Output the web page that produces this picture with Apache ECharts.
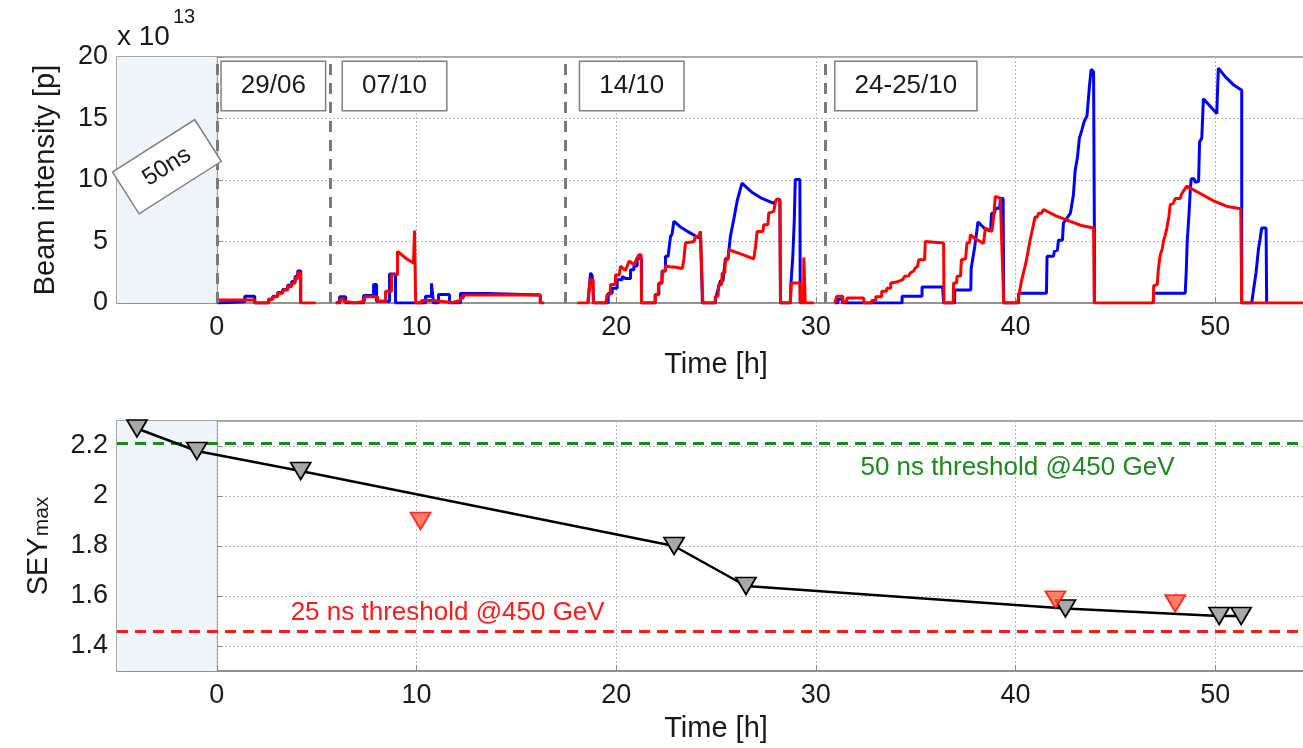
<!DOCTYPE html>
<html><head><meta charset="utf-8">
<script src="https://cdn.jsdelivr.net/npm/echarts@6/dist/echarts.min.js"></script>
<style>html,body{margin:0;padding:0;background:#fff}#c{width:1303px;height:748px}</style>
</head><body><div id="c"></div>
<script>
// ---------- data ----------
const timeTicks = [0, 10, 20, 30, 40, 50];
const intensityTicks = [0, 5, 10, 15, 20];
const seyTicks = [1.4, 1.6, 1.8, 2.0, 2.2];
const fillSeparators = [0, 5.67, 17.43, 30.45];
const fillLabels = ['29/06', '07/10', '14/10', '24-25/10'];
const fillLabelTimes = [2.83, 8.9, 20.78, 34.51];
const fillLabelLevel = 17.64;
const spacingLabel = '50ns';
const spacingLabelAt = [-2.5, 11.08];

// Beam 1 (blue), intensity in units of 1e13 p, time in h
const beam1 = [
 [0.03,0],[0.03,0.1],[1.4,0.1],[1.4,0.55],[1.9,0.55],[1.9,0],[2.6,0],[2.6,0.3],[2.8,0.3],[2.8,0.55],[3.05,0.55],[3.05,0.85],[3.3,0.85],[3.3,1.1],[3.55,1.1],[3.55,1.45],[3.75,1.45],[3.75,1.75],[3.92,1.75],[3.92,2.15],[4.05,2.15],[4.05,2.6],[4.2,2.6],[4.2,0],
 [4.6,'-'],
 [5.96,0],[6.15,0],[6.15,0.5],[6.45,0.5],[6.45,0],[7.35,0],[7.35,0.6],[7.85,0.6],[7.85,1.5],[8.0,1.5],[8.0,0.15],[8.65,0.15],[8.65,2.35],[8.95,2.35],[8.95,0],[10.45,0],[10.45,0.55],[10.75,0.55],[10.75,1.6],[10.85,1.6],[10.85,0],[11.1,0],[11.1,0.7],[11.65,0.7],[11.65,0],[12.2,0],[12.2,0.77],[13.55,0.77],[13.55,0.65],[16.2,0.65],[16.2,0],
 [17,'-'],
 [18.6,0],[18.6,0.3],[18.7,0.3],[18.72,2.45],[18.8,2.2],[18.88,2.2],[18.88,0],[19.6,0],[19.6,0.8],[19.8,0.8],[19.8,1.2],[20.05,1.2],[20.05,1.9],[20.3,1.9],[20.3,2.15],[20.47,2.0],[20.72,2.0],[20.72,2.7],[20.89,2.7],[20.89,3.0],[21.05,3.0],[21.05,3.65],[21.14,3.5],[21.27,3.6],[21.27,0],
 [21.95,0],[21.95,0.7],[22.14,0.7],[22.14,1.6],[22.3,1.6],[22.3,2.6],[22.47,2.6],[22.47,3.8],[22.6,3.8],[22.72,5.4],[22.8,5.6],[22.89,6.65],[23.2,6.2],[23.6,5.8],[23.97,5.45],[24.14,5.3],[24.22,5.8],[24.32,5.8],[24.32,0],
 [24.97,0],[24.97,0.3],[25.05,0.8],[25.14,0.8],[25.22,1.8],[25.35,1.8],[25.47,3.6],[25.6,3.6],[25.72,5.4],[25.8,5.5],[25.89,6.8],[25.98,6.9],[26.06,8.3],[26.15,8.4],[26.3,9.75],[26.8,9.0],[27.3,8.5],[27.9,8.1],[28.06,8.45],[28.2,8.4],[28.23,0],
 [28.72,0],[28.75,1.5],[28.82,1.5],[28.85,3.9],[28.92,6.7],[28.97,10.05],[29.2,10.05],[29.22,0],
 [30,'-'],
 [30.95,0],[31.1,0],[31.1,0.3],[31.35,0.3],[31.35,0],[34.32,0],[34.32,0.54],[35.32,0.54],[35.32,1.3],[36.35,1.3],[36.4,0],
 [36.95,0],[36.95,1.05],[37.76,1.05],[37.78,2.8],[37.85,2.8],[37.88,3.8],[37.93,3.8],[37.96,4.6],[38.02,4.6],[38.05,5.7],[38.08,5.7],[38.12,6.6],[38.3,6.3],[38.49,6.0],[38.75,5.85],[38.8,7.3],[38.95,7.3],[39.0,7.7],[39.2,7.7],[39.25,8.5],[39.38,8.5],[39.41,0],
 [40.15,0],[40.15,0.8],[41.55,0.8],[41.58,3.8],[41.9,3.8],[41.95,4.2],[42.1,4.3],[42.15,5.1],[42.35,5.1],[42.4,6.5],[42.75,7.3],[42.85,7.45],[42.9,8.8],[42.99,10.8],[43.1,11.8],[43.2,13.4],[43.33,14.1],[43.45,14.8],[43.58,15.2],[43.71,17.75],[43.79,19.0],[43.91,18.8],[43.95,6.1],[43.95,0],
 [45,'-'],
 [46.9,0],[46.92,0.8],[48.5,0.8],[48.55,2.5],[48.6,5.0],[48.7,7.5],[48.75,9.1],[48.8,10.1],[48.95,10.1],[49.0,9.8],[49.17,9.9],[49.22,13.1],[49.33,13.4],[49.41,16.6],[50.08,15.4],[50.16,19.1],[50.5,18.4],[50.91,17.75],[51.33,17.3],[51.33,0],
 [51.83,0],[51.95,1.4],[52.05,2.5],[52.17,4.4],[52.25,5.2],[52.33,6.1],[52.55,6.1],[52.58,0]
];

// Beam 2 (red)
const beam2 = [
 [0.03,0],[0.03,0.25],[1.9,0.25],[1.9,0],[2.6,0],[2.6,0.3],[2.8,0.3],[2.8,0.5],[3.05,0.5],[3.05,0.8],[3.3,0.8],[3.3,1.05],[3.55,1.05],[3.55,1.35],[3.75,1.35],[3.75,1.6],[3.92,1.6],[3.92,2.0],[4.05,2.0],[4.05,2.45],[4.2,2.45],[4.2,0],[4.95,0],
 [5.5,'-'],
 [5.96,0],[5.96,0.15],[6.2,0.15],[6.2,0.35],[6.37,0.35],[6.37,0.1],[6.54,0.1],[6.54,0],[6.9,0],[6.9,0.15],[7.4,0.15],[7.4,0.5],[8.05,0.5],[8.05,0.15],[8.45,0.15],[8.45,0.95],[8.75,0.95],[8.75,2.3],[9.05,2.3],[9.05,4.2],[9.15,4.1],[9.5,3.6],[9.85,3.25],[9.9,5.9],[9.96,5.9],[9.96,0],[10.25,0],[10.25,0.2],[10.8,0.2],[10.8,0.05],[11.8,0.05],[11.8,0.2],[12.2,0.2],[12.2,0.4],[12.35,0.4],[12.35,0.65],[16.2,0.65],[16.2,0],[16.4,0],
 [17,'-'],
 [18.05,0],[18.6,0],[18.6,0.3],[18.7,0.3],[18.7,1.9],[18.85,1.9],[18.85,0],[19.5,0],[19.5,0.2],[19.55,0.2],[19.55,0.7],[19.7,0.7],[19.72,1.5],[19.95,1.5],[19.97,2.3],[20.15,2.25],[20.22,3.0],[20.35,2.8],[20.47,2.65],[20.64,3.4],[20.75,3.3],[20.89,3.1],[21.0,3.5],[21.14,3.93],[21.25,3.9],[21.27,0],
 [21.95,0],[21.97,0.67],[22.1,0.67],[22.14,1.63],[22.28,1.63],[22.31,2.58],[22.45,2.58],[22.47,3.03],[22.7,2.95],[23.0,2.9],[23.31,2.8],[23.39,3.52],[23.45,3.52],[23.47,4.88],[23.9,5.0],[23.97,5.42],[24.15,5.42],[24.22,5.82],[24.3,5.82],[24.34,0],
 [24.95,0],[24.97,0.54],[25.1,0.54],[25.14,1.49],[25.28,1.49],[25.31,2.44],[25.44,2.44],[25.47,3.52],[25.6,3.52],[25.64,4.33],[26.3,3.95],[26.89,3.58],[26.98,4.6],[27.03,4.6],[27.06,5.82],[27.35,5.82],[27.39,6.37],[27.6,6.37],[27.64,7.3],[27.89,7.45],[27.98,8.26],[28.06,8.45],[28.2,8.3],[28.23,0],
 [28.72,0],[28.78,1.63],[29.2,1.63],[29.22,0],[29.38,0],[29.4,3.7],[29.45,3.7],[29.47,0],[29.9,0],
 [30.4,'-'],
 [30.95,0],[31.05,0],[31.05,0.55],[31.35,0.55],[31.35,0.1],[31.55,0.1],[31.55,0.4],[32.4,0.4],[32.4,0],[32.8,0],[32.8,0.2],[33.0,0.2],[33.0,0.5],[33.3,0.5],[33.3,0.95],[33.55,0.95],[33.55,1.2],[33.75,1.2],[33.75,1.62],[34.05,1.7],[34.1,1.76],[34.35,1.9],[34.45,2.17],[34.65,2.2],[34.73,2.44],[34.9,2.6],[34.98,2.84],[35.1,3.0],[35.15,3.52],[35.45,3.52],[35.48,5.0],[36.4,4.88],[36.42,0],
 [36.88,0],[36.9,1.62],[37.05,1.62],[37.07,2.17],[37.25,2.2],[37.29,3.52],[37.5,3.6],[37.57,4.88],[37.7,4.9],[37.74,5.55],[38.0,5.2],[38.4,4.85],[38.49,6.1],[38.6,6.0],[38.82,5.83],[38.91,7.04],[38.96,7.04],[38.99,8.67],[39.24,8.53],[39.32,8.53],[39.41,0],
 [40.1,0],[40.15,0.4],[40.25,0.4],[40.3,1.8],[40.4,1.8],[40.48,3.0],[40.55,3.5],[40.65,4.4],[40.73,5.1],[40.85,6.0],[40.98,7.0],[41.1,7.0],[41.15,7.3],[41.3,7.3],[41.4,7.6],[42.0,7.1],[42.74,6.63],[43.3,6.3],[43.91,6.1],[43.95,0],[46.9,0],
 [46.92,1.4],[47.1,1.5],[47.15,2.7],[47.25,3.9],[47.35,4.4],[47.42,5.1],[47.5,5.5],[47.58,6.1],[47.68,7.0],[47.75,8.0],[47.9,8.1],[48.0,8.5],[48.25,8.5],[48.3,8.8],[48.41,9.1],[48.5,9.1],[48.58,9.5],[49.25,8.9],[49.92,8.3],[50.6,7.85],[51.28,7.67],[51.33,0],[55,0]
];

// SEY_max estimate (black line with grey markers) and measured points (red)
const seyFit = [[-4.0,2.27],[-1.0,2.18],[4.2,2.10],[22.9,1.80],[26.5,1.64],[42.5,1.55],[50.2,1.52],[51.3,1.52]];
const seyMeasured = [[10.2,1.90],[42.0,1.585],[48.0,1.57]];
const threshold50 = 2.215;
const threshold25 = 1.457;
const threshold50Label = '50 ns threshold @450 GeV';
const threshold25Label = '25 ns threshold @450 GeV';
const threshold50LabelAt = [40.1, 2.111];
const threshold25LabelAt = [11.56, 1.534];

// ---------- chart ----------
const FONT = 'Liberation Sans';
const TXT = '#1a1a1a';
const AX = '#8a8a8a';
const splitLine = {show: true, lineStyle: {color: '#b9b9b9', type: [2, 2], width: 1}};
const PLOT_W = 1198;

function xAxisCfg(gi, gap) {
  return {
    gridIndex: gi, type: 'value', min: -5, max: 55,
    name: 'Time [h]', nameLocation: 'middle', nameGap: gap,
    nameTextStyle: {fontSize: 29, color: TXT, fontFamily: FONT},
    axisLine: {show: true, onZero: false, lineStyle: {color: AX, width: 1.5}},
    axisTick: {show: true, inside: true, length: 6, customValues: timeTicks, lineStyle: {color: AX}},
    axisLabel: {customValues: timeTicks, fontSize: 27, color: TXT, margin: 11, fontFamily: FONT},
    splitLine: splitLine
  };
}

const chart = echarts.init(document.getElementById('c'), null, {renderer: 'canvas'});
const option = {
  animation: false,
  backgroundColor: '#fff',
  textStyle: {fontFamily: FONT},
  grid: [
    {left: 117, top: 57, width: PLOT_W, height: 246, outerBoundsMode: 'none', containLabel: false, show: true, borderColor: AX, borderWidth: 1.5, backgroundColor: '#fff'},
    {left: 117, top: 421, width: PLOT_W, height: 250, outerBoundsMode: 'none', containLabel: false, show: true, borderColor: AX, borderWidth: 1.5, backgroundColor: '#fff'}
  ],
  xAxis: [xAxisCfg(0, 47), xAxisCfg(1, 43)],
  yAxis: [
    {
      gridIndex: 0, type: 'value', min: 0, max: 20, interval: 5,
      name: 'Beam intensity [p]', nameLocation: 'middle', nameGap: 57, nameRotate: 90,
      nameTextStyle: {fontSize: 29, color: TXT, fontFamily: FONT},
      axisLine: {show: true, lineStyle: {color: AX, width: 1.5}},
      axisTick: {show: true, inside: true, length: 6, lineStyle: {color: AX}},
      axisLabel: {fontSize: 27, color: TXT, margin: 9, fontFamily: FONT},
      splitLine: splitLine
    },
    {
      gridIndex: 1, type: 'value', min: 1.3, max: 2.3,
      name: '{a|SEY}{b|max}', nameLocation: 'middle', nameGap: 64, nameRotate: 90,
      nameTextStyle: {
        color: TXT, fontFamily: FONT,
        rich: {
          a: {fontSize: 29, color: TXT, fontFamily: FONT, lineHeight: 29, verticalAlign: 'middle'},
          b: {fontSize: 21, color: TXT, fontFamily: FONT, lineHeight: 21, verticalAlign: 'bottom', padding: [22, 0, 0, 1]}
        }
      },
      axisLine: {show: true, lineStyle: {color: AX, width: 1.5}},
      axisTick: {show: true, inside: true, length: 6, customValues: seyTicks, lineStyle: {color: AX}},
      axisLabel: {customValues: seyTicks, fontSize: 27, color: TXT, margin: 9, fontFamily: FONT},
      splitLine: splitLine
    }
  ],
  series: [
    {
      name: 'Beam 1', type: 'line', xAxisIndex: 0, yAxisIndex: 0, data: beam1,
      showSymbol: false, symbol: 'none', connectNulls: false,
      lineStyle: {color: '#0000ff', width: 3}, z: 3,
      markArea: {silent: true, itemStyle: {color: '#f0f5fc'}, data: [[{xAxis: -5}, {xAxis: 0}]]},
      markLine: {
        silent: true, symbol: 'none', label: {show: false},
        lineStyle: {color: '#7a7a7a', type: [11, 8], width: 3},
        data: fillSeparators.map(t => ({xAxis: t}))
      }
    },
    {
      name: 'Beam 2', type: 'line', xAxisIndex: 0, yAxisIndex: 0, data: beam2,
      showSymbol: false, symbol: 'none', connectNulls: false,
      lineStyle: {color: '#ff0000', width: 3}, z: 4,
      markPoint: {
        silent: true, symbol: 'rect', symbolSize: 0,
        data: fillLabels.map((s, i) => ({
          name: s, coord: [fillLabelTimes[i], fillLabelLevel],
          label: {show: true, position: 'inside', formatter: s, fontSize: 26, color: TXT, fontFamily: FONT,
                  backgroundColor: '#fff', borderColor: '#808080', borderWidth: 1.5, padding: [11, 19, 11, 19]}
        })).concat([{
          name: spacingLabel, coord: spacingLabelAt,
          label: {show: true, position: 'inside', formatter: spacingLabel, fontSize: 24, color: TXT, fontFamily: FONT, rotate: 32.5,
                  backgroundColor: '#fff', borderColor: '#808080', borderWidth: 1.5, padding: [12, 22, 12, 22]}
        }])
      }
    },
    {
      name: 'SEY bg', type: 'line', xAxisIndex: 1, yAxisIndex: 1, data: [],
      markArea: {silent: true, itemStyle: {color: '#f0f5fc'}, data: [[{xAxis: -5}, {xAxis: 0}]]},
      markLine: {
        silent: true, symbol: 'none', label: {show: false},
        data: [
          {yAxis: threshold50, lineStyle: {color: '#1a8a1a', type: [11, 7], width: 3}},
          {yAxis: threshold25, lineStyle: {color: '#ff1a1a', type: [11, 7], width: 3}}
        ]
      },
      markPoint: {
        silent: true, symbolSize: 0,
        data: [
          {coord: threshold50LabelAt, label: {show: true, position: 'inside', formatter: threshold50Label, fontSize: 26, color: '#1a8a1a', fontFamily: FONT}},
          {coord: threshold25LabelAt, label: {show: true, position: 'inside', formatter: threshold25Label, fontSize: 26, color: '#ff1a1a', fontFamily: FONT}}
        ]
      }
    },
    {
      name: 'SEY max', type: 'line', xAxisIndex: 1, yAxisIndex: 1, data: seyFit,
      symbol: 'triangle', symbolRotate: 180, symbolSize: [20, 17], showSymbol: true,
      itemStyle: {color: '#a8a8a8', borderColor: '#000', borderWidth: 1.8},
      lineStyle: {color: '#000', width: 2.5}, z: 5
    },
    {
      name: 'SEY measured', type: 'scatter', xAxisIndex: 1, yAxisIndex: 1, data: seyMeasured,
      symbol: 'triangle', symbolRotate: 180, symbolSize: [20, 17],
      itemStyle: {color: '#ff6040', borderColor: '#ff0000', borderWidth: 1.8}, z: 6
    }
  ],
  graphic: [
    {type: 'text', left: 117, top: 23, style: {text: 'x 10', fontSize: 28, fill: TXT, fontFamily: FONT}},
    {type: 'text', left: 173, top: 7, style: {text: '13', fontSize: 20, fill: TXT, fontFamily: FONT}}
  ]
};
chart.setOption(option);
</script>
</body></html>
